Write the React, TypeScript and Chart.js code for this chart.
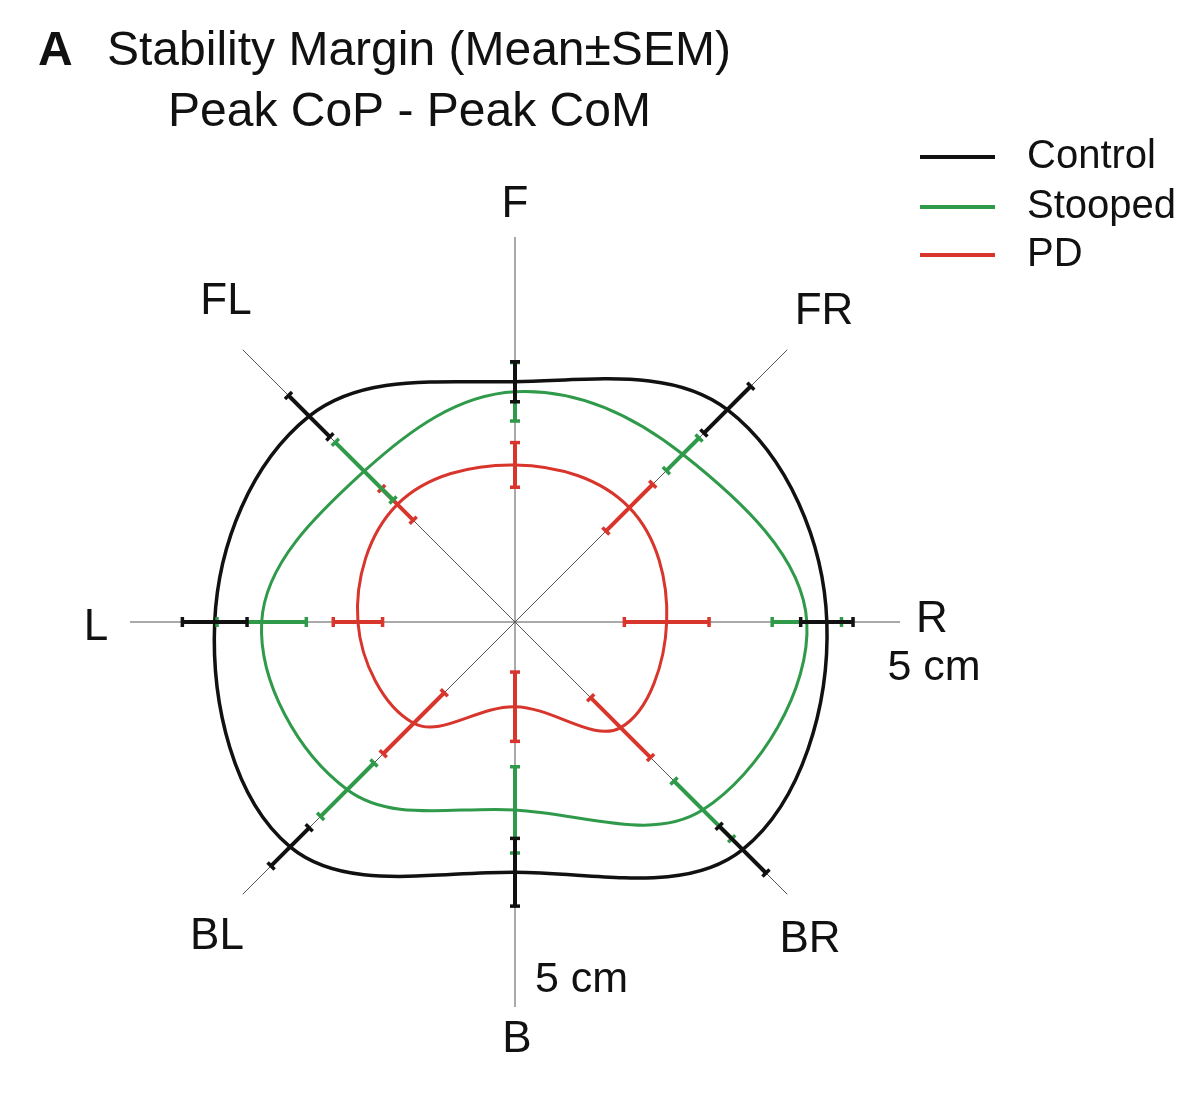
import React, { useEffect, useRef } from "react";
import { Chart, registerables } from "chart.js";

Chart.register(...registerables);

// ---- Data (cm) ----
const directions = ["F", "FR", "R", "BR", "B", "BL", "L", "FL"];
const seriesNames = ["Control", "Stooped", "PD"];
const controlMean = [3.12, 3.9, 4.05, 4.18, 3.25, 4.13, 3.9, 3.78];
const controlSem = [0.26, 0.43, 0.34, 0.43, 0.44, 0.35, 0.42, 0.38];
const stoopedMean = [2.99, 3.08, 3.79, 3.45, 2.44, 3.08, 3.29, 2.77];
const stoopedSem = [0.38, 0.3, 0.45, 0.53, 0.56, 0.49, 0.58, 0.53];
const pdMean = [2.04, 2.1, 1.97, 1.94, 1.1, 1.86, 2.04, 2.16];
const pdSem = [0.29, 0.43, 0.55, 0.55, 0.45, 0.56, 0.32, 0.29];
const axisMin = 0;
const axisMax = 5;
const scaleLabel = "5 cm";
const titleLetter = "A";
const titleLine1 = "Stability Margin (Mean±SEM)";
const titleLine2 = "Peak CoP - Peak CoM";

const colors = ["#111111", "#2f9a4a", "#d8352c"];
const widths = [3.5, 3, 3];
const means = [controlMean, stoopedMean, pdMean];
const sems = [controlSem, stoopedSem, pdSem];

const FONT = '"Liberation Sans", Arial, Helvetica, sans-serif';

// label anchor positions in canvas coords (page - 8)
const labelPos: Record<string, [number, number]> = {
  F: [507, 197],
  FR: [816, 304],
  R: [924, 612],
  BR: [802, 932],
  B: [509, 1032],
  BL: [209, 929],
  L: [88, 620],
  FL: [218, 294],
};

const errorBarPlugin = {
  id: "errorBars",
  afterDatasetsDraw(chart: any) {
    const scale = chart.scales.r;
    const ctx = chart.ctx;
    ctx.save();
    for (let di = chart.data.datasets.length - 1; di >= 0; di--) {
      const ds = chart.data.datasets[di];
      const e = sems[di];
      ctx.strokeStyle = colors[di];
      ctx.lineCap = "butt";
      ds.data.forEach((v: number, i: number) => {
        const a = scale.getPointPositionForValue(i, v - e[i]);
        const b = scale.getPointPositionForValue(i, v + e[i]);
        const dx = b.x - a.x;
        const dy = b.y - a.y;
        const len = Math.hypot(dx, dy) || 1;
        const px = -dy / len;
        const py = dx / len;
        ctx.lineWidth = 4;
        ctx.beginPath();
        ctx.moveTo(a.x, a.y);
        ctx.lineTo(b.x, b.y);
        ctx.stroke();
        ctx.lineWidth = 3.5;
        const cap = 5;
        [a, b].forEach((p: any) => {
          ctx.beginPath();
          ctx.moveTo(p.x - px * cap, p.y - py * cap);
          ctx.lineTo(p.x + px * cap, p.y + py * cap);
          ctx.stroke();
        });
      });
    }
    ctx.restore();
  },
};

const textPlugin = {
  id: "texts",
  afterDraw(chart: any) {
    const ctx = chart.ctx;
    ctx.save();
    ctx.fillStyle = "#111";
    // Title
    ctx.textAlign = "left";
    ctx.textBaseline = "alphabetic";
    ctx.font = `bold 48px ${FONT}`;
    ctx.fillText(titleLetter, 30, 57);
    ctx.font = `48px ${FONT}`;
    ctx.fillText(titleLine1, 99, 57);
    ctx.fillText(titleLine2, 160, 118);

    // Direction labels
    ctx.font = `44px ${FONT}`;
    ctx.textAlign = "center";
    ctx.textBaseline = "middle";
    directions.forEach((d) => {
      const p = labelPos[d];
      ctx.fillText(d, p[0], p[1]);
    });

    // scale labels
    ctx.font = `43px ${FONT}`;
    ctx.textAlign = "center";
    ctx.fillText(scaleLabel, 926, 660);
    ctx.textAlign = "left";
    ctx.fillText(scaleLabel, 527, 972);

    // Legend
    ctx.font = `40px ${FONT}`;
    ctx.textAlign = "left";
    ctx.textBaseline = "middle";
    const ly = [149, 199, 247];
    seriesNames.forEach((n, i) => {
      ctx.strokeStyle = colors[i];
      ctx.lineWidth = 4;
      ctx.beginPath();
      ctx.moveTo(912, ly[i]);
      ctx.lineTo(987, ly[i]);
      ctx.stroke();
      ctx.fillStyle = "#111";
      ctx.fillText(n, 1019, ly[i]);
    });
    ctx.restore();
  },
};

export default function App() {
  const ref = useRef<HTMLCanvasElement | null>(null);
  useEffect(() => {
    if (!ref.current) return;
    const chart = new Chart(ref.current, {
      type: "radar",
      data: {
        labels: directions,
        datasets: seriesNames.map((n, i) => ({
          label: n,
          data: means[i],
          borderColor: colors[i],
          borderWidth: widths[i],
          pointRadius: 0,
          pointHoverRadius: 0,
          fill: false,
          tension: 0.37,
        })),
      },
      options: {
        responsive: true,
        maintainAspectRatio: false,
        animation: false,
        layout: { padding: { left: 122, right: 288, top: 229, bottom: 87 } },
        scales: {
          r: {
            min: axisMin,
            max: axisMax,
            ticks: { display: false },
            grid: { display: false },
            angleLines: { display: true, color: "#555", lineWidth: 1 },
            pointLabels: { display: false },
          },
        },
        plugins: {
          legend: { display: false },
          title: { display: false },
          tooltip: { enabled: false },
        },
      },
      plugins: [errorBarPlugin, textPlugin],
    } as any);
    return () => chart.destroy();
  }, []);
  return (
    <div style={{ position: "relative", width: 1180, height: 1086 }}>
      <canvas ref={ref} />
    </div>
  );
}
